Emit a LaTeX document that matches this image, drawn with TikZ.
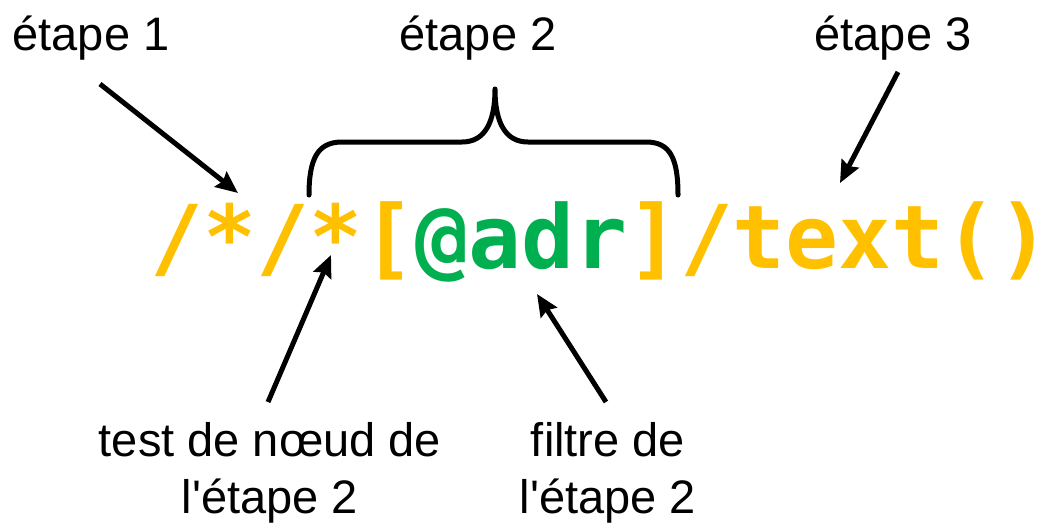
\documentclass[tikz,border=0pt]{standalone}
\usepackage{fontspec}
\setmainfont{Liberation Sans}
\newfontfamily\codefont{DejaVu Sans Mono}
\usetikzlibrary{arrows.meta}
\definecolor{gold}{HTML}{FFC000}
\definecolor{leaf}{HTML}{00B050}
\begin{document}
\begin{tikzpicture}[x=1pt,y=-1pt,
  lbl/.style={font=\fontsize{47}{57}\selectfont, inner sep=0pt, align=center},
  ptr/.style={line width=5pt, -{Stealth[length=22pt,width=19pt,inset=3pt]}},
  bracepath/.style={line width=5pt, line cap=round, line join=round},
  code/.style={inner sep=0pt, font=\codefont\bfseries\fontsize{88}{88}\selectfont}]
\useasboundingbox (0,0) rectangle (1041,523);

% labels
\node[lbl, anchor=base] (e1) at (91,50) {étape 1};
\node[lbl, anchor=base] (e2) at (478,50) {étape 2};
\node[lbl, anchor=base] (e3) at (893,50) {étape 3};
\node[lbl, anchor=north] (nt) at (270,422) {test de nœud de\\l\textquotesingle étape 2};
\node[lbl, anchor=north] (pf) at (608,422) {filtre de\\l\textquotesingle étape 2};

% the XPath expression
\node[code, anchor=base west] (xp) at (150,268)
  {\textcolor{gold}{/*/*[}\textcolor{leaf}{@adr}\textcolor{gold}{]/text()}};

% arrow ends
\coordinate (t1) at (100,84);   \coordinate (h1) at (238,193);
\coordinate (t3) at (898,72);   \coordinate (h3) at (840,183);
\coordinate (tn) at (268,402);  \coordinate (hn) at (331,255);
\coordinate (tf) at (606,402);  \coordinate (hf) at (537,294);

\draw[ptr] (t1) -- (h1);
\draw[ptr] (t3) -- (h3);
\draw[ptr] (tn) -- (hn);
\draw[ptr] (tf) -- (hf);

% brace over step 2
\coordinate (bl) at (309,195);
\coordinate (bt) at (495,89);
\coordinate (br) at (678,195);
\draw[bracepath] (bl) .. controls (309,158) and (318,142) .. (342,142)
  -- (462,142) .. controls (485,142) and (495,122) .. (bt)
  .. controls (495,122) and (505,142) .. (528,142)
  -- (646,142) .. controls (670,142) and (678,158) .. (br);
\end{tikzpicture}
\end{document}
